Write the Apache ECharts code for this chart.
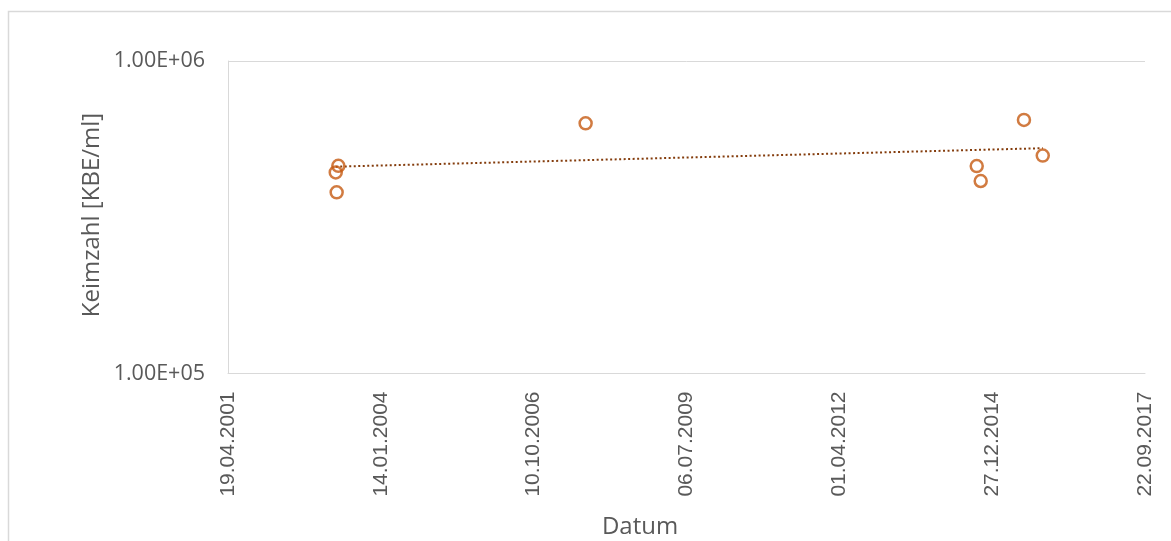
<!DOCTYPE html>
<html>
<head>
<meta charset="utf-8">
<title>Keimzahl</title>
<script src="https://cdn.jsdelivr.net/npm/echarts@6/dist/echarts.min.js"></script>
<style>
  html, body { margin: 0; padding: 0; background: #ffffff; }
  #chart { width: 1171px; height: 541px; }
</style>
</head>
<body>
<div id="chart"></div>
<script>
// Sampling dates and colony counts (KBE/ml)
const sampleDates = ['2003-04-11', '2003-03-25', '2003-03-31', '2007-09-15',
                     '2014-09-17', '2014-10-13', '2015-07-23', '2015-11-23'];
const counts = [462000, 440000, 380000, 632000, 461000, 413000, 648000, 498000];

// Exponential trend line, start and end
const trendDates = ['2003-03-25', '2015-11-23'];
const trendCounts = [459000, 526000];

// Axis range (spreadsheet date serials) and tick step in days
const xMinSerial = 37000;   // 19.04.2001
const xMaxSerial = 43000;   // 22.09.2017
const xStepDays = 1000;
const yMin = 1e5;
const yMax = 1e6;

const EPOCH = Date.UTC(1899, 11, 30);
function toSerial(iso) {
  const [y, m, d] = iso.split('-').map(Number);
  return Math.round((Date.UTC(y, m - 1, d) - EPOCH) / 86400000);
}
function serialToLabel(s) {
  const dt = new Date(EPOCH + s * 86400000);
  const p = n => String(n).padStart(2, '0');
  return p(dt.getUTCDate()) + '.' + p(dt.getUTCMonth() + 1) + '.' + dt.getUTCFullYear();
}
function sciLabel(v) {
  const e = Math.round(Math.log10(v));
  const m = v / Math.pow(10, e);
  return m.toFixed(2) + 'E' + (e >= 0 ? '+' : '-') + String(Math.abs(e)).padStart(2, '0');
}

const points = sampleDates.map((d, i) => [toSerial(d), counts[i]]);
const trend = trendDates.map((d, i) => [toSerial(d), trendCounts[i]]);

const chart = echarts.init(document.getElementById('chart'), null, { renderer: 'canvas' });

chart.setOption({
  animation: false,
  backgroundColor: '#ffffff',
  grid: { left: 228, right: 26, top: 61, bottom: 167.5, containLabel: false },
  xAxis: {
    type: 'value',
    min: xMinSerial,
    max: xMaxSerial,
    interval: xStepDays,
    axisLine: { show: true, onZero: false, lineStyle: { color: '#d9d9d9', width: 1 } },
    axisTick: { show: false },
    splitLine: { show: false },
    axisLabel: {
      rotate: 90,
      margin: 18,
      color: '#595959',
      fontFamily: 'Liberation Sans, Arial, sans-serif',
      fontSize: 21,
      formatter: v => serialToLabel(v)
    }
  },
  yAxis: {
    type: 'log',
    logBase: 10,
    min: yMin,
    max: yMax,
    axisLine: { show: true, lineStyle: { color: '#d9d9d9', width: 1 } },
    axisTick: { show: false },
    splitLine: { show: true, lineStyle: { color: '#d9d9d9', width: 1 } },
    axisLabel: {
      margin: 23,
      color: '#595959',
      fontFamily: 'Open Sans, sans-serif',
      fontSize: 21.5,
      formatter: v => sciLabel(v)
    }
  },
  series: [
    {
      type: 'line',
      data: trend,
      showSymbol: false,
      symbol: 'none',
      lineStyle: { color: '#843c0c', width: 2, type: [2, 2.5] },
      z: 2
    },
    {
      type: 'scatter',
      data: points,
      symbol: 'circle',
      symbolSize: 12,
      itemStyle: { color: 'rgba(0,0,0,0)', borderColor: '#c55a11', borderWidth: 2.5 },
      z: 3
    }
  ],
  graphic: [
    {
      type: 'rect',
      silent: true,
      shape: { x: 8.5, y: 11.5, width: 1300, height: 700 },
      style: { fill: 'none', stroke: '#d9d9d9', lineWidth: 1.5 },
      z: -1
    },
    {
      type: 'text',
      x: 92, y: 215,
      rotation: Math.PI / 2,
      style: {
        text: 'Keimzahl [KBE/ml]',
        fill: '#595959',
        font: '24px "Open Sans", sans-serif',
        align: 'center',
        verticalAlign: 'middle'
      }
    },
    {
      type: 'text',
      x: 640, y: 527,
      style: {
        text: 'Datum',
        fill: '#595959',
        font: '24px "Open Sans", sans-serif',
        align: 'center',
        verticalAlign: 'middle'
      }
    }
  ]
});
</script>
</body>
</html>
